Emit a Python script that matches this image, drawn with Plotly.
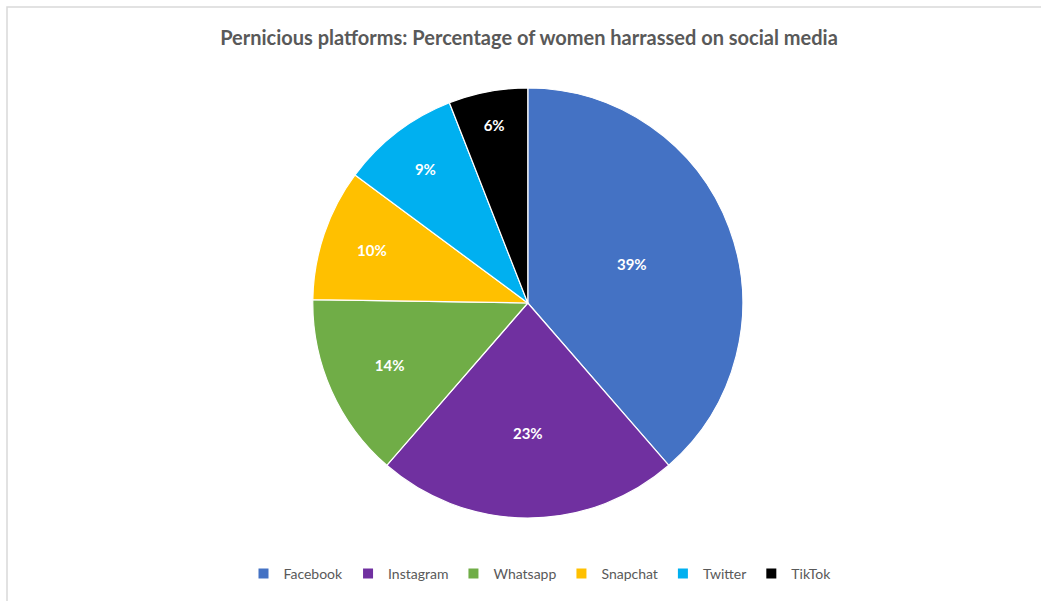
import plotly.graph_objects as go

platforms = ["Facebook", "Instagram", "Whatsapp", "Snapchat", "Twitter", "TikTok"]
shares = [39, 23, 14, 10, 9, 6]
colors = ["#4472C4", "#7030A0", "#70AD47", "#FFC000", "#00B0F0", "#000000"]
labels_txt = ["39%", "23%", "14%", "10%", "9%", "6%"]

W, H = 1041, 601

fig = go.Figure()
fig.add_trace(go.Pie(
    labels=platforms,
    values=shares,
    text=labels_txt,
    textinfo="text",
    sort=False,
    direction="clockwise",
    rotation=0,
    marker=dict(colors=colors, line=dict(color="white", width=1.2)),
    textposition="inside",
    insidetextorientation="horizontal",
    textfont=dict(family="Lato, Open Sans, sans-serif", size=15, color="white", weight="bold"),
    domain=dict(x=[0.1, 0.914], y=[1 - 518 / H, 1 - 88 / H]),
    showlegend=True,
    hoverinfo="label+percent",
))

fig.update_layout(
    width=W, height=H,
    margin=dict(l=0, r=0, t=0, b=0),
    paper_bgcolor="white",
    plot_bgcolor="white",
    title=dict(
        text="<b>Pernicious platforms: Percentage of women harrassed on social media</b>",
        x=529 / W, xanchor="center", y=1 - 38 / H, yanchor="middle",
        font=dict(family="Lato, Open Sans, sans-serif", size=20, color="#595959"),
    ),
    legend=dict(
        orientation="h",
        x=540 / W, xanchor="center",
        y=1 - 574 / H, yanchor="middle",
        font=dict(family="Lato, Open Sans, sans-serif", size=14, color="#595959"),
        itemsizing="constant",
        traceorder="normal",
    ),
    shapes=[dict(
        type="rect", xref="paper", yref="paper",
        x0=7 / W, x1=1.02, y0=-0.02, y1=1 - 7 / H,
        line=dict(color="#D9D9D9", width=1.5), fillcolor="rgba(0,0,0,0)",
    )],
)

fig.write_html("out.html")
